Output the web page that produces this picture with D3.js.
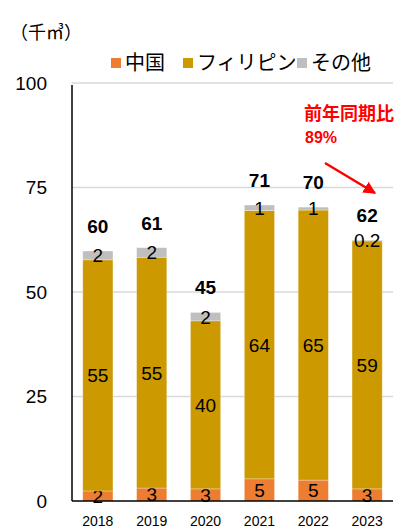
<!DOCTYPE html>
<html>
<head>
<meta charset="utf-8">
<script src="https://cdn.jsdelivr.net/npm/d3@7"></script>
<style>
  body { margin: 0; background: #fff; }
  text { font-family: "Noto Sans CJK JP", "Liberation Sans", sans-serif; }
  text.num { font-family: "Liberation Sans", Arial, sans-serif; }
</style>
</head>
<body>
<svg id="chart" width="416" height="529"></svg>
<script>
var years = ["2018", "2019", "2020", "2021", "2022", "2023"];
var china = [2.4, 3.1, 2.9, 5.3, 5.0, 2.9];
var philippines = [55.3, 55.2, 40.2, 64.2, 64.6, 59.3];
var others = [2.1, 2.3, 2.0, 1.3, 0.7, 0.2];
var yTicks = [0, 25, 50, 75, 100];
var seriesNames = ["中国", "フィリピン", "その他"];
var colors = ["#ED7D31", "#CC9900", "#BFBFBF"];

var margin = {top: 83, right: 23, bottom: 28, left: 72},
    width = 416 - margin.left - margin.right,
    height = 529 - margin.top - margin.bottom;

var svg = d3.select("#chart");
var g = svg.append("g")
    .attr("transform", "translate(" + margin.left + "," + margin.top + ")");

var x = d3.scaleBand().domain(years).range([0, width]).paddingInner(0.44).paddingOuter(0.2);
var y = d3.scaleLinear().domain([0, 100]).range([height, 0]);

var rows = years.map(function(yr, i) {
    return {year: yr, china: china[i], philippines: philippines[i], others: others[i]};
});
var keys = ["china", "philippines", "others"];
var stacked = d3.stack().keys(keys)(rows);

// gridlines
g.selectAll(".grid").data(yTicks.slice(1)).enter().append("line")
    .attr("x1", 0).attr("x2", width)
    .attr("y1", function(d) { return y(d); })
    .attr("y2", function(d) { return y(d); })
    .attr("stroke", "#D9D9D9").attr("stroke-width", 1.5);

// y tick labels
g.selectAll(".ytick").data(yTicks).enter().append("text")
    .attr("class", "num")
    .attr("x", -25).attr("y", function(d) { return y(d); })
    .attr("dy", "0.36em")
    .attr("text-anchor", "end")
    .style("font-size", "19px")
    .text(function(d) { return d; });

// bars
var layer = g.selectAll(".layer").data(stacked).enter().append("g")
    .attr("fill", function(d, i) { return colors[i]; });

layer.selectAll("rect").data(function(d) { return d; }).enter().append("rect")
    .attr("x", function(d) { return x(d.data.year); })
    .attr("width", x.bandwidth())
    .attr("y", function(d) { return y(d[1]); })
    .attr("height", function(d) { return y(d[0]) - y(d[1]); })
    .attr("stroke", "#fff").attr("stroke-opacity", 0.35).attr("stroke-width", 0.8);

function fmt(v) { return v < 0.5 ? v.toFixed(1) : String(Math.round(v)); }

// segment labels
layer.selectAll(".seg").data(function(d) { return d; }).enter().append("text")
    .attr("class", "num")
    .attr("x", function(d) { return x(d.data.year) + x.bandwidth() / 2; })
    .attr("y", function(d) { return (y(d[0]) + y(d[1])) / 2; })
    .attr("dy", "0.36em")
    .attr("text-anchor", "middle")
    .attr("fill", "#000")
    .style("font-size", "19px")
    .text(function(d) { return fmt(d[1] - d[0]); });

// totals
g.selectAll(".total").data(rows).enter().append("text")
    .attr("class", "num")
    .attr("x", function(d) { return x(d.year) + x.bandwidth() / 2; })
    .attr("y", function(d) { return y(d.china + d.philippines + d.others) - 18; })
    .attr("text-anchor", "middle")
    .style("font-size", "19px").style("font-weight", "bold")
    .text(function(d) { return Math.round(d.china + d.philippines + d.others); });

// axes lines
g.append("line").attr("x1", 0).attr("x2", width).attr("y1", height).attr("y2", height)
    .attr("stroke", "#000").attr("stroke-width", 1.5);
g.append("line").attr("x1", 0).attr("x2", 0).attr("y1", 2).attr("y2", height)
    .attr("stroke", "#000").attr("stroke-width", 1.5);

// x labels
g.selectAll(".xlab").data(years).enter().append("text")
    .attr("class", "num")
    .attr("x", function(d) { return x(d) + x.bandwidth() / 2; })
    .attr("y", height + 25)
    .attr("text-anchor", "middle")
    .style("font-size", "14px")
    .text(function(d) { return d; });

// unit
svg.append("text").attr("x", 10).attr("y", 39)
    .style("font-size", "18px").text("（千㎥）");

// legend
var legendX = [111, 183, 297];
var legend = svg.selectAll(".legend").data(seriesNames).enter().append("g")
    .attr("transform", function(d, i) { return "translate(" + legendX[i] + ",58)"; });
legend.append("rect").attr("width", 10).attr("height", 10)
    .attr("fill", function(d, i) { return colors[i]; });
legend.append("text").attr("x", 14).attr("y", 5).attr("dy", "0.36em")
    .style("font-size", "20px").text(function(d) { return d; });

// annotation
svg.append("text").attr("x", 304).attr("y", 120).attr("fill", "#FF0000")
    .style("font-size", "18px").style("font-weight", "bold").text("前年同期比");
svg.append("text").attr("class", "num").attr("x", 305).attr("y", 143).attr("fill", "#FF0000")
    .style("font-size", "16px").style("font-weight", "bold").text("89%");

svg.append("defs").append("marker")
    .attr("id", "arrow").attr("viewBox", "0 0 10 10")
    .attr("refX", 9).attr("refY", 5)
    .attr("markerWidth", 5).attr("markerHeight", 5)
    .attr("markerUnits", "strokeWidth")
    .attr("orient", "auto")
  .append("path").attr("d", "M0,0L10,5L0,10Z").attr("fill", "#FF0000");
svg.append("line").attr("x1", 325).attr("y1", 163).attr("x2", 375).attr("y2", 193)
    .attr("stroke", "#FF0000").attr("stroke-width", 2.5)
    .attr("marker-end", "url(#arrow)");
</script>
</body>
</html>
